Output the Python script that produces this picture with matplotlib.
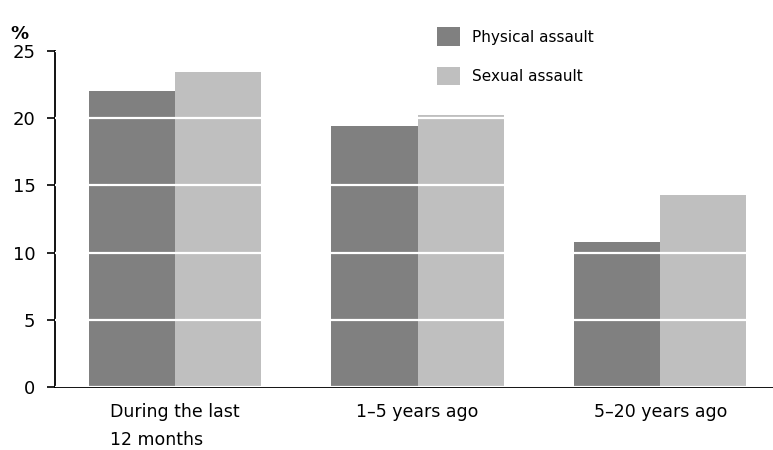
import numpy as np
import matplotlib
matplotlib.use("Agg")
import matplotlib.pyplot as plt

# data
categories = ["During the last\n12 months", "1\u20135 years ago", "5\u201320 years ago"]
physical = [22.0, 19.4, 10.8]
sexual = [23.4, 20.2, 14.3]
series_names = ["Physical assault", "Sexual assault"]
colors = ["#808080", "#bfbfbf"]

plt.rcParams["font.family"] = ["DejaVu Sans"]

fig = plt.figure(figsize=(7.73, 4.5), dpi=100)
ax = fig.add_axes([0.071, 0.139, 0.929, 0.748])

x = np.arange(len(categories))
w = 0.355
b1 = ax.bar(x - w / 2, physical, w, color=colors[0], label=series_names[0], zorder=1)
b2 = ax.bar(x + w / 2, sexual, w, color=colors[1], label=series_names[1], zorder=1)

ax.set_ylim(0, 25)
ax.set_xlim(-0.495, 2.465)
ax.set_yticks([0, 5, 10, 15, 20, 25])
ax.set_xticks(x)
ax.set_xticklabels(categories, fontsize=12.5, multialignment="left", linespacing=1.7)

# white gridlines drawn over the bars
ax.set_axisbelow(False)
ax.yaxis.grid(True, color="white", linewidth=1.6, zorder=3)

for s in ["top", "right"]:
    ax.spines[s].set_visible(False)
ax.spines["left"].set_linewidth(1.3)
ax.spines["bottom"].set_linewidth(1.3)
ax.tick_params(axis="y", length=6, width=1.2, labelsize=13, pad=8)
ax.tick_params(axis="x", length=0, pad=11)

fig.text(0.014, 0.905, "%", fontsize=13, fontweight="bold", va="bottom")

fig.legend(handles=[b1, b2], loc="upper left", bbox_to_anchor=(0.548, 0.97),
           frameon=False, fontsize=11, handlelength=1.5, handleheight=1.5,
           handletextpad=0.75, labelspacing=1.35)

fig.savefig("out.png", dpi=100)
